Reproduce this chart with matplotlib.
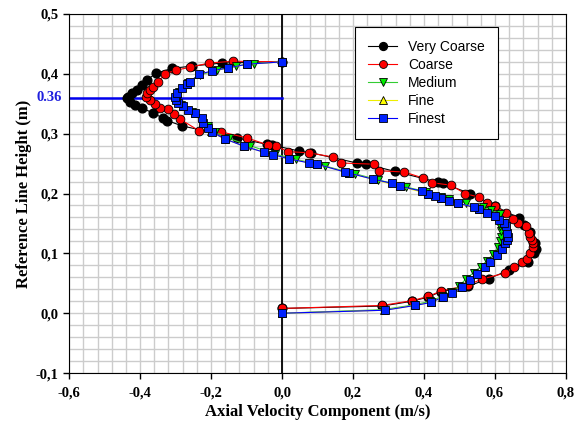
import matplotlib
matplotlib.use("Agg")
import matplotlib.pyplot as plt
from matplotlib.ticker import MultipleLocator, FuncFormatter

# data (x = axial velocity [m/s], y = height [m])
very_coarse_x = [0.000, 0.282, 0.366, 0.412, 0.447, 0.524, 0.583, 0.640, 0.693, 0.710,
                 0.715, 0.712, 0.700, 0.682, 0.668, 0.600, 0.530, 0.453, 0.439, 0.318,
                 0.237, 0.211, 0.082, 0.048, -0.028, -0.042, -0.127, -0.282, -0.324, -0.335,
                 -0.363, -0.394, -0.414, -0.428, -0.437, -0.434, -0.423, -0.408, -0.394, -0.380,
                 -0.355, -0.310, -0.254, -0.169, 0.000]
very_coarse_y = [0.008, 0.012, 0.020, 0.027, 0.036, 0.045, 0.058, 0.072, 0.085, 0.100,
                 0.107, 0.117, 0.135, 0.147, 0.159, 0.179, 0.200, 0.217, 0.219, 0.237,
                 0.249, 0.251, 0.268, 0.271, 0.281, 0.282, 0.293, 0.313, 0.322, 0.326,
                 0.334, 0.343, 0.348, 0.353, 0.360, 0.362, 0.368, 0.373, 0.381, 0.390,
                 0.401, 0.409, 0.413, 0.418, 0.420]

coarse_x = [0.000, 0.282, 0.366, 0.412, 0.447, 0.524, 0.563, 0.628, 0.653, 0.676,
            0.690, 0.699, 0.707, 0.707, 0.704, 0.699, 0.696, 0.687, 0.665, 0.651,
            0.631, 0.600, 0.577, 0.555, 0.515, 0.476, 0.422, 0.397, 0.344, 0.273,
            0.259, 0.166, 0.144, 0.076, 0.017, -0.017, -0.039, -0.099, -0.172, -0.234,
            -0.287, -0.304, -0.321, -0.344, -0.358, -0.372, -0.383, -0.380, -0.372, -0.363,
            -0.349, -0.330, -0.299, -0.259, -0.206, -0.138, 0.000]
coarse_y = [0.008, 0.013, 0.021, 0.028, 0.037, 0.047, 0.057, 0.067, 0.077, 0.085,
            0.090, 0.100, 0.110, 0.117, 0.122, 0.127, 0.134, 0.145, 0.150, 0.157,
            0.167, 0.179, 0.184, 0.194, 0.200, 0.214, 0.218, 0.226, 0.236, 0.238,
            0.249, 0.251, 0.261, 0.268, 0.270, 0.279, 0.281, 0.293, 0.303, 0.305,
            0.324, 0.333, 0.341, 0.343, 0.350, 0.356, 0.361, 0.368, 0.373, 0.378,
            0.386, 0.400, 0.406, 0.411, 0.418, 0.421, 0.420]

medium_x = [0.000, 0.285, 0.372, 0.418, 0.450, 0.476, 0.500, 0.518, 0.540, 0.560,
            0.578, 0.595, 0.608, 0.615, 0.618, 0.617, 0.614, 0.625, 0.614, 0.590,
            0.566, 0.518, 0.470, 0.448, 0.406, 0.349, 0.270, 0.206, 0.120, 0.040,
            -0.020, -0.090, -0.150, -0.190, -0.210, -0.225, -0.255, -0.285, -0.300, -0.290,
            -0.265, -0.232, -0.183, -0.130, -0.080, 0.000]
medium_y = [0.000, 0.006, 0.014, 0.020, 0.028, 0.036, 0.046, 0.057, 0.068, 0.078,
            0.088, 0.099, 0.110, 0.120, 0.128, 0.137, 0.146, 0.150, 0.166, 0.172,
            0.177, 0.184, 0.191, 0.195, 0.203, 0.211, 0.223, 0.233, 0.246, 0.257,
            0.266, 0.280, 0.292, 0.303, 0.313, 0.325, 0.336, 0.348, 0.360, 0.370,
            0.384, 0.398, 0.406, 0.413, 0.417, 0.420]

fine_x = [0.000, 0.288, 0.374, 0.419, 0.452, 0.479, 0.505, 0.528, 0.548, 0.570,
          0.585, 0.604, 0.618, 0.627, 0.634, 0.632, 0.624, 0.600, 0.555, 0.496,
          0.448, 0.410, 0.332, 0.256, 0.190, 0.099, 0.020, -0.050, -0.107, -0.160,
          -0.200, -0.222, -0.245, -0.280, -0.300, -0.296, -0.268, -0.234, -0.152, -0.099,
          0.000]
fine_y = [0.000, 0.005, 0.013, 0.018, 0.027, 0.035, 0.044, 0.055, 0.066, 0.077,
          0.085, 0.097, 0.107, 0.117, 0.125, 0.140, 0.150, 0.163, 0.174, 0.184,
          0.192, 0.200, 0.212, 0.224, 0.234, 0.249, 0.258, 0.269, 0.279, 0.291,
          0.304, 0.318, 0.334, 0.347, 0.360, 0.368, 0.383, 0.399, 0.410, 0.416,
          0.420]

finest_x = [0.000, 0.290, 0.375, 0.420, 0.453, 0.480, 0.507, 0.530, 0.550, 0.572,
            0.586, 0.606, 0.620, 0.628, 0.634, 0.637, 0.634, 0.631, 0.625, 0.612,
            0.600, 0.577, 0.555, 0.540, 0.496, 0.470, 0.448, 0.430, 0.410, 0.394,
            0.332, 0.310, 0.256, 0.190, 0.177, 0.099, 0.076, 0.020, -0.025, -0.051,
            -0.107, -0.160, -0.197, -0.208, -0.222, -0.225, -0.245, -0.265, -0.279, -0.293,
            -0.299, -0.301, -0.296, -0.282, -0.268, -0.259, -0.234, -0.197, -0.152, -0.099,
            0.000]
finest_y = [0.000, 0.005, 0.013, 0.018, 0.027, 0.034, 0.044, 0.055, 0.066, 0.077,
            0.085, 0.097, 0.107, 0.117, 0.122, 0.127, 0.134, 0.145, 0.150, 0.156,
            0.163, 0.167, 0.174, 0.177, 0.184, 0.188, 0.192, 0.196, 0.200, 0.204,
            0.212, 0.217, 0.224, 0.234, 0.236, 0.249, 0.251, 0.258, 0.265, 0.269,
            0.279, 0.291, 0.303, 0.309, 0.318, 0.326, 0.334, 0.339, 0.346, 0.351,
            0.356, 0.361, 0.368, 0.377, 0.383, 0.387, 0.399, 0.405, 0.410, 0.416,
            0.420]

ref_height = 0.36

serif = ["Liberation Serif", "DejaVu Serif"]
sans = ["Liberation Sans", "DejaVu Sans"]

fig = plt.figure(figsize=(5.81, 4.23), dpi=100)
ax = fig.add_axes([0.119, 0.118, 0.855, 0.849])

ax.set_xlim(-0.6, 0.8)
ax.set_ylim(-0.1, 0.5)
ax.xaxis.set_major_locator(MultipleLocator(0.2))
ax.xaxis.set_minor_locator(MultipleLocator(0.04))
ax.yaxis.set_major_locator(MultipleLocator(0.1))
ax.yaxis.set_minor_locator(MultipleLocator(0.02))
ax.grid(True, which="both", color="#cccccc", lw=1.0, zorder=0)
ax.set_axisbelow(True)
ax.tick_params(which="minor", length=0)
ax.tick_params(which="major", direction="out", length=4, width=1, top=False, right=False)
ax.tick_params(axis="x", pad=6)

comma = FuncFormatter(lambda v, p: f"{v:.1f}".replace(".", ","))
ax.xaxis.set_major_formatter(comma)
ax.yaxis.set_major_formatter(comma)
for lab in ax.get_xticklabels() + ax.get_yticklabels():
    lab.set_family(serif)
    lab.set_fontweight("bold")
    lab.set_fontsize(10.5)

ax.axvline(0, color="black", lw=1.3, zorder=2)
ax.plot([-0.6, 0.0], [ref_height, ref_height], color="#0000ee", lw=1.8, zorder=2)
ax.text(-0.62, ref_height, "0.36", color="#1f1fdd", fontweight="bold", family=serif,
        fontsize=10.5, ha="right", va="center")

ms = 6.3
ax.plot(very_coarse_x, very_coarse_y, "-o", color="black", mfc="black", mec="black",
        lw=0.8, ms=ms, label="Very Coarse", zorder=3)
ax.plot(coarse_x, coarse_y, "-o", color="red", mfc="red", mec="black", mew=0.6,
        lw=0.8, ms=ms, label="Coarse", zorder=3)
ax.plot(medium_x, medium_y, "-v", color="#33cc33", mfc="#00ee00", mec="black", mew=0.6,
        lw=0.8, ms=ms, label="Medium", zorder=3)
ax.plot(fine_x, fine_y, "-^", color="#eeee00", mfc="#ffff00", mec="black", mew=0.6,
        lw=0.8, ms=ms, label="Fine", zorder=3)
ax.plot(finest_x, finest_y, "-s", color="blue", mfc="#0022ff", mec="black", mew=0.6,
        lw=0.8, ms=ms, label="Finest", zorder=3)

leg = ax.legend(loc="upper left", bbox_to_anchor=(0.575, 0.964), borderaxespad=0,
                prop={"family": sans, "size": 10},
                frameon=True, fancybox=False, edgecolor="black", framealpha=1,
                handlelength=2.1, borderpad=0.95, labelspacing=0.28, markerscale=0.9)
leg.get_frame().set_linewidth(0.8)

ax.set_xlabel("Axial Velocity Component (m/s)", family=serif, fontweight="bold", fontsize=12,
              labelpad=3)
ax.set_ylabel("Reference Line Height (m)", family=serif, fontweight="bold", fontsize=12,
              labelpad=3)

fig.savefig("out.png", dpi=100)
